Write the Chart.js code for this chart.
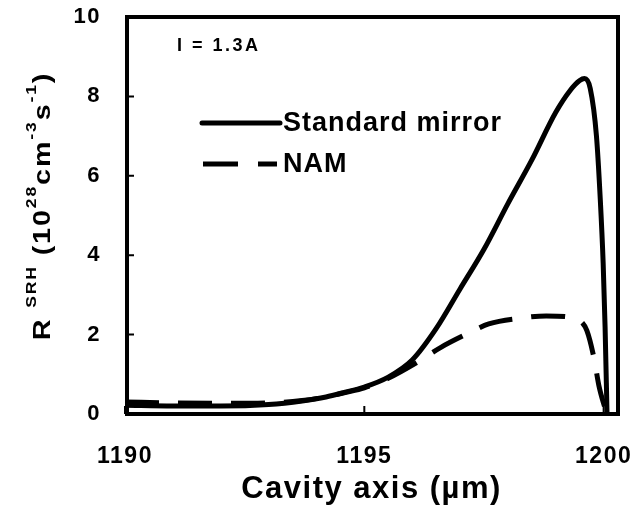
<!DOCTYPE html>
<html>
<head>
<meta charset="utf-8">
<script src="https://cdn.jsdelivr.net/npm/chart.js@4.4.0/dist/chart.umd.min.js"></script>
<style>
  html, body { margin: 0; padding: 0; background: #fff; }
  #wrap { width: 632px; height: 512px; }
</style>
</head>
<body>
<div id="wrap"><canvas id="srhChart"></canvas></div>
<script>
// Taxa de recombinação SRH ao longo da cavidade (I = 1.3A)
const standardX = [1190, 1191, 1192, 1193, 1193.7, 1194.2, 1194.6, 1195.0, 1195.5, 1196.0, 1196.5, 1197.0, 1197.5, 1198.0, 1198.5, 1199.0, 1199.3, 1199.5, 1199.6, 1199.72, 1199.85, 1199.93, 1199.99, 1200.03, 1200.07];
const standardY = [0.22, 0.2, 0.2, 0.24, 0.33, 0.43, 0.55, 0.68, 0.93, 1.36, 2.15, 3.15, 4.15, 5.3, 6.4, 7.6, 8.15, 8.4, 8.45, 8.2, 7.0, 5.4, 3.8, 2.2, 0.05];

const namX = [1190, 1191, 1192, 1193, 1193.7, 1194.2, 1194.6, 1195.0, 1195.5, 1196.1, 1196.6, 1197.2, 1197.6, 1198.3, 1198.8, 1199.25, 1199.5, 1199.65, 1199.8, 1199.9, 1200.05];
const namY = [0.3, 0.28, 0.27, 0.28, 0.34, 0.43, 0.54, 0.66, 0.9, 1.3, 1.68, 2.05, 2.27, 2.42, 2.47, 2.45, 2.36, 2.1, 1.4, 0.72, 0.05];

const xTicks = [1190, 1195, 1200];
const yTicks = [0, 2, 4, 6, 8, 10];
const seriesLabels = ['Standard mirror', 'NAM'];
const currentLabel = 'I = 1.3A';
const xTitle = 'Cavity axis (µm)';
// [texto, sobrescrito?]
const yTitleRuns = [['R', 0], [' ', 0], ['SRH', 1], [' (10', 0], ['28', 1], ['cm', 0], ['-3', 1], ['s', 0], ['-1', 1], [')', 0]];

const FONT = "'Liberation Sans', Arial, sans-serif";
const NAM_DASH = [34, 19];

const toPoints = (xs, ys) => xs.map((x, i) => ({ x: x, y: ys[i] }));

// Moldura, ticks internos, legenda e títulos
const frameAndText = {
  id: 'frameAndText',
  beforeDraw(chart) {
    chart.ctx.letterSpacing = '1.5px';
  },
  afterDraw(chart) {
    const { ctx, chartArea: a, scales } = chart;
    ctx.save();
    ctx.strokeStyle = '#000';
    ctx.fillStyle = '#000';

    ctx.lineWidth = 4;
    ctx.strokeRect(a.left + 2, a.top, a.right - a.left - 2, a.bottom - a.top);

    // ticks para dentro
    ctx.lineWidth = 2;
    ctx.beginPath();
    yTicks.forEach(v => {
      const py = scales.y.getPixelForValue(v);
      ctx.moveTo(a.left + 2, py);
      ctx.lineTo(a.left + 9, py);
    });
    xTicks.forEach(v => {
      const px = scales.x.getPixelForValue(v);
      ctx.moveTo(px, a.bottom);
      ctx.lineTo(px, a.bottom - 8);
    });
    ctx.stroke();

    // anotação da corrente
    ctx.textBaseline = 'middle';
    ctx.textAlign = 'left';
    ctx.letterSpacing = '2.5px';
    ctx.font = 'bold 18px ' + FONT;
    ctx.fillText(currentLabel, a.left + 52, a.top + 29);

    // legenda
    const lx = a.left + 77;
    const ly = [a.top + 106, a.top + 147];
    ctx.lineWidth = 5;
    ctx.lineCap = 'round';
    ctx.beginPath();
    ctx.moveTo(lx, ly[0]);
    ctx.lineTo(lx + 78, ly[0]);
    ctx.stroke();
    ctx.setLineDash([35, 20]);
    ctx.lineCap = 'butt';
    ctx.beginPath();
    ctx.moveTo(lx + 1, ly[1]);
    ctx.lineTo(lx + 75, ly[1]);
    ctx.stroke();
    ctx.setLineDash([]);
    ctx.letterSpacing = '1px';
    ctx.font = 'bold 27px ' + FONT;
    ctx.fillText(seriesLabels[0], lx + 81, ly[0] + 1);
    ctx.fillText(seriesLabels[1], lx + 81, ly[1] + 1);

    // título do eixo y com sobrescritos
    const mainFont = 'bold 23px ' + FONT;
    const supFont = 'bold 14px ' + FONT;
    ctx.letterSpacing = '1.5px';
    let total = 0;
    const widths = yTitleRuns.map(([t, sup]) => {
      ctx.font = sup ? supFont : mainFont;
      const w = ctx.measureText(t).width;
      total += w;
      return w;
    });
    const stretch = 1.25;
    ctx.translate(50, 206);
    ctx.rotate(-Math.PI / 2);
    ctx.scale(stretch, 1);
    ctx.textBaseline = 'alphabetic';
    let cx = -total / 2;
    yTitleRuns.forEach(([t, sup], i) => {
      ctx.font = sup ? supFont : mainFont;
      ctx.fillText(t, cx, sup ? -14 : 0);
      cx += widths[i];
    });
    ctx.restore();
  }
};

const chart = new Chart(document.getElementById('srhChart'), {
  type: 'line',
  data: {
    datasets: [
      {
        label: seriesLabels[0],
        data: toPoints(standardX, standardY),
        borderColor: '#000',
        borderWidth: 5,
        pointRadius: 0,
        cubicInterpolationMode: 'monotone',
        fill: false,
        clip: false
      },
      {
        label: seriesLabels[1],
        data: toPoints(namX, namY),
        borderColor: '#000',
        borderWidth: 5,
        borderDash: NAM_DASH,
        pointRadius: 0,
        cubicInterpolationMode: 'monotone',
        fill: false,
        clip: false
      }
    ]
  },
  options: {
    responsive: true,
    maintainAspectRatio: false,
    animation: false,
    events: [],
    layout: {
      padding: { top: 17, right: 14, bottom: 0, left: 0 }
    },
    plugins: {
      legend: { display: false },
      tooltip: { enabled: false }
    },
    scales: {
      x: {
        type: 'linear',
        min: 1190,
        max: 1200.3,
        afterBuildTicks: (scale) => {
          scale.ticks = xTicks.map(v => ({ value: v }));
        },
        afterFit: (scale) => {
          scale.height = 98;
          scale.paddingLeft = 0;
          scale.paddingRight = 0;
        },
        grid: { display: false, drawTicks: false },
        border: { display: false },
        ticks: {
          padding: 29,
          color: '#000',
          font: { size: 23, weight: 'bold', family: FONT },
          maxRotation: 0,
          callback: (v) => String(v)
        },
        title: {
          display: true,
          text: xTitle,
          color: '#000',
          font: { size: 31, weight: 'bold', family: FONT },
          padding: { top: 0, bottom: 4 }
        }
      },
      y: {
        min: 0,
        max: 10,
        afterBuildTicks: (scale) => {
          scale.ticks = yTicks.map(v => ({ value: v }));
        },
        afterFit: (scale) => {
          scale.width = 125;
          scale.paddingTop = 0;
          scale.paddingBottom = 0;
        },
        grid: { display: false, drawTicks: false },
        border: { display: false },
        ticks: {
          padding: 24,
          color: '#000',
          font: { size: 22, weight: 'bold', family: FONT }
        }
      }
    }
  },
  plugins: [frameAndText]
});
</script>
</body>
</html>
